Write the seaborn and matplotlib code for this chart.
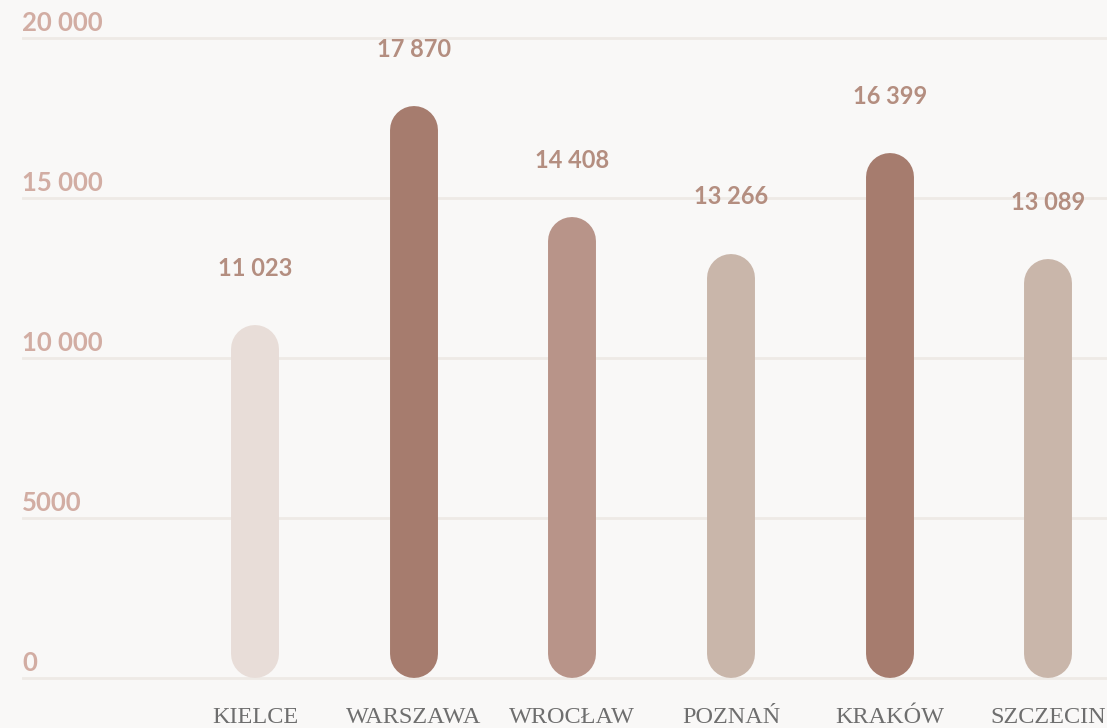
import seaborn as sns
from matplotlib import pyplot as plt

cities = ['KIELCE', 'WARSZAWA', 'WROCŁAW', 'POZNAŃ', 'KRAKÓW', 'SZCZECIN']
values = [11023, 17870, 14408, 13266, 16399, 13089]
bar_colors = ['#e8ddd8', '#a67c6e', '#b89489', '#c9b6aa', '#a67c6e', '#c9b6aa']
y_ticks = [0, 5000, 10000, 15000, 20000]


def fmt(v):
    # polish style: no separator for 4-digit numbers
    return f'{v:,}'.replace(',', ' ') if v >= 10000 else str(v)


sns.set_theme(style='white')
plt.rcParams['font.family'] = ['Lato', 'DejaVu Sans']

fig = plt.figure(figsize=(11.07, 7.28), dpi=100, facecolor='#f9f8f7')
ax = fig.add_axes([22 / 1107, 38 / 728, 1085 / 1107, 690 / 728])
ax.set_facecolor('#f9f8f7')

sns.barplot(x=cities, y=values, hue=cities, palette=bar_colors, saturation=1,
            width=0.302, legend=False, ax=ax, zorder=3)

ax.set_xlim(-1.468, 5.369)
ax.set_ylim(-375, 21190)

# bar ends: swap the flat rectangles for round-capped thick lines
p0 = ax.transData.transform((0, 0))
p1 = ax.transData.transform((1, 1))
px_x = p1[0] - p0[0]
px_y = p1[1] - p0[1]

for p in list(ax.patches):
    x, w, h = p.get_x(), p.get_width(), p.get_height()
    fc = p.get_facecolor()
    p.remove()
    r = (w * px_x / 2) / px_y          # radius in y data units
    lw = w * px_x * 72 / fig.dpi        # bar width in points
    ax.plot([x + w / 2, x + w / 2], [r, h - r], color=fc, lw=lw,
            solid_capstyle='round', zorder=3)
    ax.annotate(fmt(int(round(h))), (x + w / 2, h), xytext=(0, 41),
                textcoords='offset points', ha='center', va='center',
                fontsize=17, fontweight='bold', color='#b48e80')

ax.set_yticks(y_ticks)
ax.set_yticklabels([])
ax.yaxis.grid(True, color='#eeeae6', linewidth=2, zorder=0)
ax.xaxis.grid(False)
for v in y_ticks:
    ax.annotate(fmt(v), (0, v), xycoords=('axes fraction', 'data'),
                xytext=(0, 5), textcoords='offset points',
                ha='left', va='baseline', fontsize=18.5, fontweight='bold',
                color='#d2ada3')

ax.set_xticks(range(len(cities)))
ax.set_xticklabels(cities, family=['Liberation Serif', 'DejaVu Serif'],
                   fontsize=17.5, color='#6e6e6e')
ax.tick_params(axis='x', length=0, pad=12)
ax.tick_params(axis='y', length=0)
ax.set_xlabel('')
ax.set_ylabel('')
sns.despine(ax=ax, left=True, bottom=True)

fig.savefig('out.png', dpi=100, facecolor=fig.get_facecolor())
